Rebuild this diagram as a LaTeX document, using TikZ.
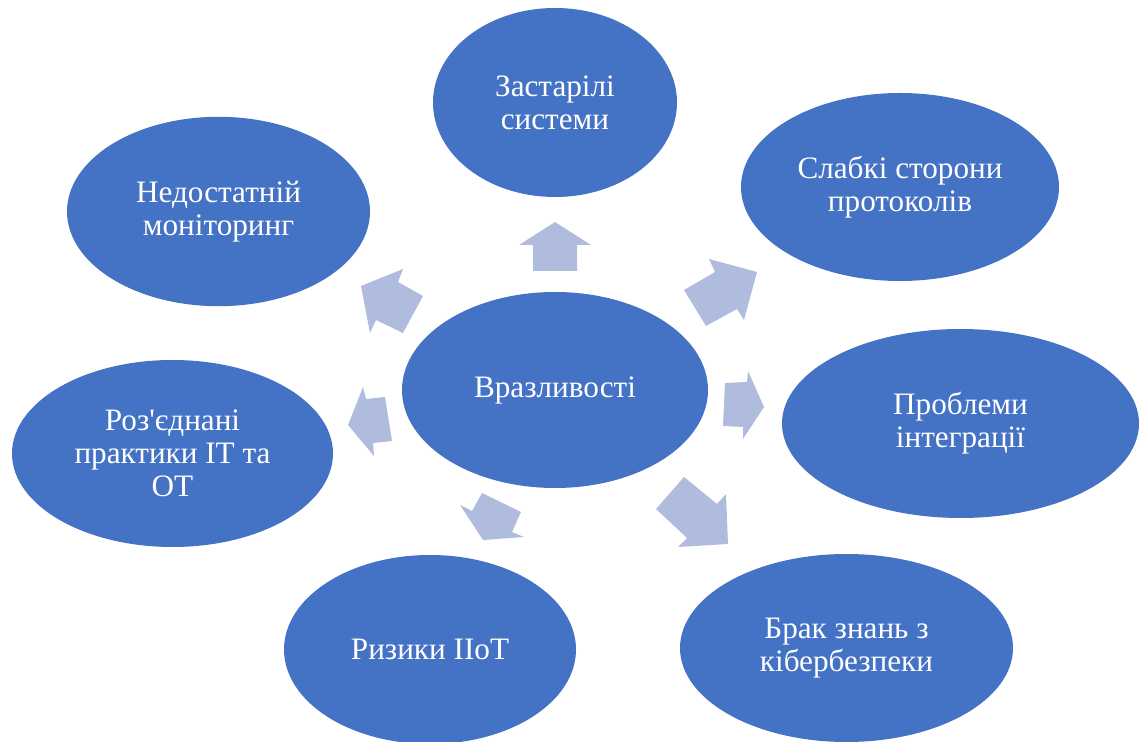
\documentclass[tikz,border=0pt]{standalone}
\usepackage{fontspec}
\newfontfamily\tnr{Liberation Serif}
\usetikzlibrary{shapes.geometric}
\definecolor{ellblue}{HTML}{4472C4}
\definecolor{arrblue}{RGB}{176,188,222}
\begin{document}
\begin{tikzpicture}[x=0.5pt,y=-0.5pt,
  bubble/.style={ellipse, fill=ellblue, draw=none, inner sep=0pt, text=white,
    align=center, font=\tnr\fontsize{15.6}{16.5}\selectfont},
  blockarrow/.style={fill=arrblue, draw=none}]
\useasboundingbox (0,0) rectangle (1141,742);
% ellipses
\node[bubble, minimum width=153pt, minimum height=98pt] (c) at (555,390) {Вразливості};
\node[bubble, minimum width=122pt, minimum height=94.5pt] (n1) at (555,102.5) {Застарілі\\системи};
\node[bubble, minimum width=159pt, minimum height=94pt] (n2) at (900,187) {Слабкі сторони\\протоколів};
\node[bubble, minimum width=178.5pt, minimum height=94.5pt] (n3) at (960.5,423.5) {Проблеми\\інтеграції};
\node[bubble, minimum width=166.5pt, minimum height=94pt] (n4) at (846.5,648) {Брак знань з\\кібербезпеки};
\node[bubble, minimum width=146pt, minimum height=94.5pt] (n5) at (430,649.5) {Ризики IIoT};
\node[bubble, minimum width=160.5pt, minimum height=93.5pt] (n6) at (172.5,453.5) {Роз'єднані\\практики IT та\\OT};
\node[bubble, minimum width=151.5pt, minimum height=94.7pt] (n7) at (218.5,211.5) {Недостатній\\моніторинг};
% block arrows
\fill[blockarrow] (533,271) -- (577,271) -- (577,245) -- (591,245) -- (555,222) -- (519,245) -- (533,245) -- cycle;
\fill[blockarrow] (684,290) -- (715,272) -- (709,259) -- (757,272) -- (744,320) -- (737,309) -- (706,326) -- cycle;
\fill[blockarrow] (725,383) -- (747,382) -- (748,371) -- (764,407) -- (743,439) -- (743,427) -- (723,426) -- cycle;
\fill[blockarrow] (656,509) -- (684,477) -- (717,504) -- (726,494) -- (728,544) -- (678,547) -- (687,538) -- cycle;
\fill[blockarrow] (482,493) -- (521,512) -- (512,532) -- (524,537) -- (483,540) -- (460,505) -- (472,511) -- cycle;
\fill[blockarrow] (385,397) -- (392,441) -- (373,443) -- (374,456) -- (348,425) -- (363,387) -- (366,399) -- cycle;
\fill[blockarrow] (423,296) -- (403,333) -- (376,320) -- (370,333) -- (361,286) -- (403,269) -- (398,282) -- cycle;
\end{tikzpicture}
\end{document}
